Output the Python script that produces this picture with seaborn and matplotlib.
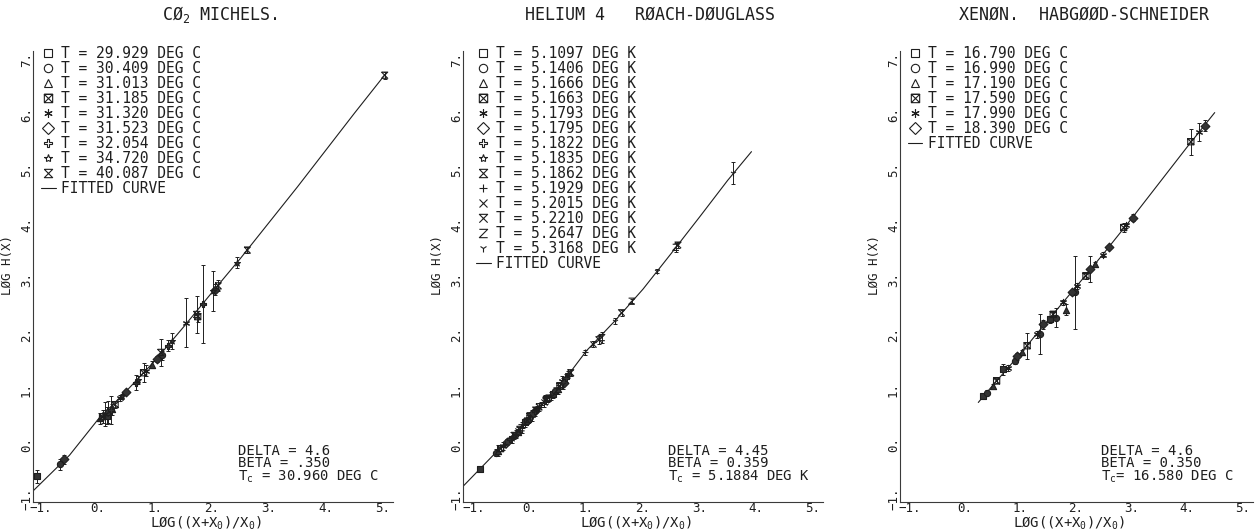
import numpy as np
import pandas as pd
import matplotlib
matplotlib.use("Agg")
import matplotlib.pyplot as plt
from matplotlib.lines import Line2D
from matplotlib.markers import MarkerStyle
from matplotlib.ticker import FixedLocator, FuncFormatter
import seaborn as sns

# ---------------- CO2, Michels ----------------
CO2_TEMPS = ["29.929", "30.409", "31.013", "31.185", "31.320",
             "31.523", "32.054", "34.720", "40.087"]
CO2_X = [-1.07, -0.67, -0.59, 0.04, 0.08, 0.12, 0.15, 0.18, 0.22, 0.24,
         0.30, 0.39, 0.42, 0.50, 0.67, 0.71, 0.80, 0.84, 0.94, 1.03,
         1.10, 1.12, 1.23, 1.30, 1.54, 1.73, 1.75, 1.85, 2.02, 2.06,
         2.11, 2.44, 2.62, 5.03]
CO2_Y = [-0.58, -0.36, -0.27, 0.47, 0.50, 0.55, 0.52, 0.58, 0.62, 0.64,
         0.72, 0.84, 0.87, 0.95, 1.12, 1.17, 1.30, 1.34, 1.45, 1.55,
         1.67, 1.62, 1.79, 1.88, 2.21, 2.36, 2.32, 2.55, 2.79, 2.81,
         2.88, 3.30, 3.53, 6.71]
CO2_ERR = [0.12, 0.10, 0.08, 0.10, 0.12, 0.22, 0.15, 0.20, 0.25, 0.10,
           0.06, 0.05, 0.05, 0.04, 0.14, 0.08, 0.17, 0.10, 0.06, 0.05,
           0.25, 0.08, 0.10, 0.15, 0.45, 0.33, 0.10, 0.71, 0.36, 0.10,
           0.10, 0.10, 0.05, 0.06]
CO2_SET = [0, 1, 5, 2, 3, 4, 0, 1, 6, 2,
           3, 4, 7, 5, 6, 7, 3, 4, 2, 5,
           8, 1, 6, 7, 4, 8, 3, 6, 7, 5,
           8, 7, 8, 8]
CO2_FIT_X = [-1.14, -0.5, 0.0, 0.5, 1.0, 1.5, 2.0, 2.5, 3.0, 3.5, 4.0, 4.5, 5.05]
CO2_FIT_Y = [-0.85, -0.2, 0.45, 0.97, 1.52, 2.13, 2.76, 3.38, 4.03, 4.68, 5.35, 6.02, 6.74]
CO2_NOTES = ["DELTA = 4.6", "BETA = .350", "T$_\\mathregular{c}$ = 30.960 DEG C"]

# ---------------- Helium 4, Roach-Douglass ----------------
HE_TEMPS = ["5.1097", "5.1406", "5.1666", "5.1663", "5.1793", "5.1795", "5.1822",
            "5.1835", "5.1862", "5.1929", "5.2015", "5.2210", "5.2647", "5.3168"]
HE_X = [-0.88, -0.60, -0.56, -0.52, -0.47, -0.45, -0.40, -0.35, -0.32, -0.28,
        -0.27, -0.25, -0.22, -0.21, -0.18, -0.15, -0.12, -0.09, -0.06, -0.05,
        -0.03, 0.00, 0.03, 0.06, 0.09, 0.10, 0.12, 0.16, 0.20, 0.24,
        0.28, 0.30, 0.33, 0.37, 0.41, 0.45, 0.47, 0.50, 0.53, 0.56,
        0.58, 0.60, 0.64, 0.68, 0.72, 0.97, 1.12, 1.22, 1.27, 1.50,
        1.62, 1.80, 2.24, 2.58, 2.62, 3.60]
HE_Y = [-0.45, -0.15, -0.12, -0.08, -0.03, 0.00, 0.04, 0.09, 0.12, 0.16,
        0.16, 0.19, 0.22, 0.24, 0.27, 0.30, 0.35, 0.40, 0.42, 0.44,
        0.46, 0.51, 0.53, 0.57, 0.60, 0.62, 0.64, 0.68, 0.72, 0.76,
        0.80, 0.82, 0.84, 0.88, 0.91, 0.96, 0.97, 1.00, 1.06, 1.15,
        1.10, 1.12, 1.20, 1.27, 1.30, 1.67, 1.82, 1.90, 1.94, 2.24,
        2.39, 2.60, 3.15, 3.58, 3.62, 4.94]
HE_ERR = [0.04, 0.06, 0.10, 0.05, 0.08, 0.05, 0.06, 0.05, 0.10, 0.06,
          0.05, 0.07, 0.05, 0.08, 0.05, 0.10, 0.06, 0.08, 0.05, 0.05,
          0.07, 0.06, 0.10, 0.05, 0.08, 0.05, 0.06, 0.07, 0.05, 0.08,
          0.06, 0.05, 0.05, 0.07, 0.06, 0.05, 0.06, 0.08, 0.06, 0.10,
          0.10, 0.05, 0.07, 0.06, 0.05, 0.04, 0.06, 0.08, 0.10, 0.05,
          0.05, 0.04, 0.04, 0.08, 0.06, 0.20]
HE_SET = [0, 1, 2, 3, 4, 9, 5, 6, 7, 8,
          1, 9, 2, 10, 11, 12, 13, 0, 1, 10,
          2, 3, 4, 5, 6, 11, 7, 8, 9, 10,
          11, 3, 12, 13, 0, 1, 12, 2, 3, 4,
          13, 5, 6, 7, 8, 9, 10, 11, 12, 13,
          11, 12, 13, 12, 11, 13]
HE_FIT_X = [-1.19, -0.5, 0.0, 0.5, 1.0, 1.5, 2.0, 2.5, 3.0, 3.5, 3.92]
HE_FIT_Y = [-0.77, -0.04, 0.5, 1.02, 1.7, 2.24, 2.82, 3.47, 4.13, 4.8, 5.32]
HE_NOTES = ["DELTA = 4.45", "BETA = 0.359", "T$_\\mathregular{c}$ = 5.1884 DEG K"]

# ---------------- Xenon, Habgood-Schneider ----------------
XE_TEMPS = ["16.790", "16.990", "17.190", "17.590", "17.990", "18.390"]
XE_X = [0.33, 0.39, 0.50, 0.57, 0.69, 0.78, 0.90, 0.94, 1.02, 1.12,
        1.30, 1.36, 1.41, 1.54, 1.59, 1.64, 1.77, 1.82, 1.92, 1.98,
        2.02, 2.18, 2.26, 2.34, 2.49, 2.59, 2.86, 2.90, 3.02, 4.07,
        4.22, 4.32]
XE_Y = [0.88, 0.94, 1.06, 1.15, 1.36, 1.39, 1.51, 1.60, 1.67, 1.79,
        2.00, 2.00, 2.18, 2.27, 2.36, 2.30, 2.58, 2.45, 2.76, 2.76,
        2.88, 3.06, 3.19, 3.27, 3.45, 3.59, 3.94, 3.98, 4.12, 5.50,
        5.68, 5.79]
XE_ERR = [0.04, 0.04, 0.04, 0.04, 0.10, 0.05, 0.05, 0.06, 0.05, 0.24,
          0.06, 0.36, 0.08, 0.06, 0.05, 0.17, 0.05, 0.10, 0.05, 0.67,
          0.06, 0.05, 0.24, 0.05, 0.04, 0.04, 0.08, 0.05, 0.06, 0.24,
          0.17, 0.10]
XE_SET = [0, 1, 2, 3, 0, 4, 1, 5, 2, 3,
          4, 1, 5, 0, 3, 1, 4, 2, 5, 1,
          4, 3, 5, 2, 4, 5, 3, 4, 5, 3,
          4, 5]
XE_FIT_X = [0.24, 0.5, 1.0, 1.5, 2.0, 2.5, 3.0, 3.5, 4.0, 4.5]
XE_FIT_Y = [0.76, 1.07, 1.65, 2.26, 2.86, 3.47, 4.1, 4.75, 5.4, 6.03]
XE_NOTES = ["DELTA = 4.6", "BETA = 0.350", "T$_\\mathregular{c}$= 16.580 DEG C"]

TITLES = ["CØ$_\\mathregular{2}$ MICHELS.",
          "HELIUM 4   RØACH-DØUGLASS",
          "XENØN.  HABGØØD-SCHNEIDER"]
UNITS = ["C", "K", "C"]

# plotter-style symbols
BOX_X = np.array([(-1, -1), (1, -1), (1, 1), (-1, 1), (-1, -1), (1, 1), (-1, 1), (1, -1)])
HOURGLASS = np.array([(-1, 1), (1, 1), (-1, -1), (1, -1), (-1, 1)])
BAR_X = np.array([(-1, -1), (1, 1), (-1, 1), (1, -1)])
ZED = np.array([(-1, 1), (1, 1), (-1, -1), (1, -1)])
MARKERS = ['s', 'o', '^', BOX_X, (6, 2, 0), 'D', 'P', '*', HOURGLASS,
           '+', 'x', BAR_X, ZED, '1']

INK = "#1e1e1e"
FIG_W, FIG_H = 1259, 531
AX_LEFT = [33, 463, 900]
AX_WIDTH = [360, 360, 353]
AX_BOTTOM, AX_HEIGHT = 29, 451
XLIMS = [(-1.14, 5.176), (-1.186, 5.186), (-1.171, 5.19)]
YLIM = (-1.05, 7.15)
LEG_X = [0.014, 0.028, 0.014]


def marker_kws(m):
    ms = MarkerStyle(m)
    if not ms.is_filled():
        return dict(color=INK)
    if isinstance(m, np.ndarray):
        return dict(color=INK, facecolor="none", edgecolor=INK)
    return dict(color=INK, facecolor="#333333", edgecolor=INK)


def tick_fmt(v, pos):
    return f"{int(round(v))}.".replace("-", "\u2212")


sns.set_style("white")
plt.rcParams["font.family"] = ["DejaVu Sans Mono", "DejaVu Sans"]
plt.rcParams["text.color"] = INK
plt.rcParams["axes.labelcolor"] = INK

fig = plt.figure(figsize=(FIG_W / 100, FIG_H / 100), dpi=100)

panels = [
    (CO2_X, CO2_Y, CO2_ERR, CO2_SET, CO2_FIT_X, CO2_FIT_Y, CO2_TEMPS, CO2_NOTES),
    (HE_X, HE_Y, HE_ERR, HE_SET, HE_FIT_X, HE_FIT_Y, HE_TEMPS, HE_NOTES),
    (XE_X, XE_Y, XE_ERR, XE_SET, XE_FIT_X, XE_FIT_Y, XE_TEMPS, XE_NOTES),
]

for i, (xs, ys, errs, sets, fx, fy, temps, notes) in enumerate(panels):
    ax = fig.add_axes([AX_LEFT[i] / FIG_W, AX_BOTTOM / FIG_H,
                       AX_WIDTH[i] / FIG_W, AX_HEIGHT / FIG_H])
    df = pd.DataFrame({"x": xs, "y": ys, "err": errs, "set": sets})

    # fitted curve
    sns.lineplot(x=fx, y=fy, ax=ax, color=INK, lw=0.8, estimator=None, sort=False)

    # error bars
    ax.errorbar(df["x"], df["y"], yerr=df["err"], fmt="none", ecolor=INK,
                elinewidth=0.7, capsize=1.3, capthick=0.7, zorder=2)

    # points, one symbol per isotherm
    for k in range(len(temps)):
        sub = df[df["set"] == k]
        if sub.empty:
            continue
        m = MARKERS[k]
        sns.scatterplot(x=sub["x"], y=sub["y"], ax=ax, marker=m, s=20,
                        linewidth=0.8, zorder=3, **marker_kws(m))

    ax.set_xlim(*XLIMS[i])
    ax.set_ylim(*YLIM)
    ax.xaxis.set_major_locator(FixedLocator(range(-1, 6)))
    ax.yaxis.set_major_locator(FixedLocator(range(-1, 8)))
    ax.xaxis.set_major_formatter(FuncFormatter(tick_fmt))
    ax.yaxis.set_major_formatter(FuncFormatter(tick_fmt))
    ax.tick_params(direction="in", length=3, width=0.6, colors=INK,
                   labelsize=9, pad=0)
    ax.tick_params(axis="y", labelrotation=90)
    for lab in ax.get_yticklabels():
        lab.set_va("center")
    sns.despine(ax=ax)
    for sp in ("left", "bottom"):
        ax.spines[sp].set_linewidth(0.8)
        ax.spines[sp].set_color("#3a3a3a")

    ax.set_xlabel("LØG((X+X$_\\mathregular{0}$)/X$_\\mathregular{0}$)", fontsize=10)
    ax.xaxis.set_label_coords(0.48, -0.028)
    ax.set_ylabel("LØG H(X)", fontsize=9)
    ax.yaxis.set_label_coords(-0.053, 0.525)

    ax.text(0.52, 1.08, TITLES[i], transform=ax.transAxes, ha="center",
            va="center", fontsize=12)

    ax.text(0.57, 0.1286, "\n".join(notes), transform=ax.transAxes,
            ha="left", va="top", fontsize=10, linespacing=0.85)

    handles = [Line2D([0], [0], marker=MARKERS[k], ls="none", color=INK,
                      mfc="none", mew=0.8, ms=6) for k in range(len(temps))]
    labels = [f"T = {t} DEG {UNITS[i]}" for t in temps]
    handles.append(Line2D([0], [0], color=INK, lw=0.8))
    labels.append("FITTED CURVE")
    ax.legend(handles, labels, loc="upper left", bbox_to_anchor=(LEG_X[i], 1.018),
              frameon=False, fontsize=10.5, handlelength=1.0, handletextpad=0.4,
              labelspacing=0.0, borderaxespad=0, borderpad=0.2)

fig.savefig("out.png", dpi=100)
